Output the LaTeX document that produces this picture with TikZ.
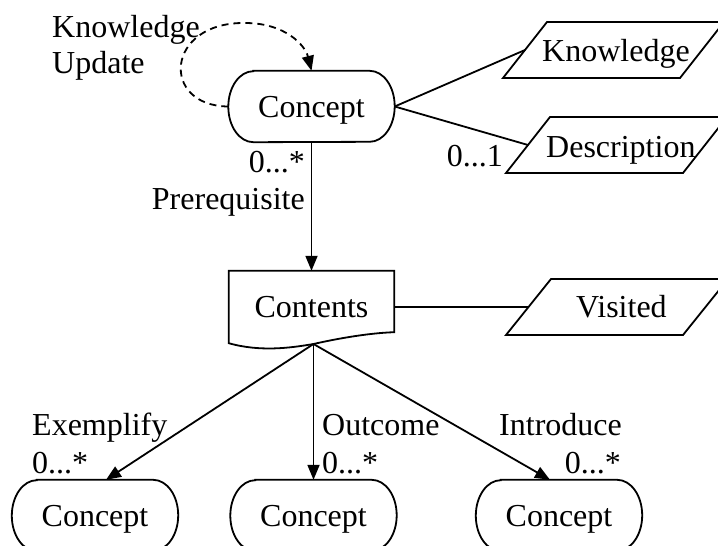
\documentclass[tikz,border=0pt]{standalone}
\usepackage{fontspec}
\setmainfont{Liberation Serif}
\usetikzlibrary{arrows.meta}
\newcommand\stadiumoutline[1]{%
  \draw[shp] ([xshift=25pt]#1.north west) -- ([xshift=-25pt]#1.north east)
    arc (90:-90:25pt and 35.5pt) -- ([xshift=25pt]#1.south west)
    arc (270:90:25pt and 35.5pt) -- cycle;}
\begin{document}
\begin{tikzpicture}[x=1pt,y=-1pt,
  every node/.style={font=\fontsize{32}{36}\selectfont, inner sep=0pt},
  lbl/.style={anchor=base west},
  lblr/.style={anchor=base east},
  concept/.style={minimum width=166pt, minimum height=71pt, text height=21pt, text depth=0pt},
  conn/.style={line width=1.8pt},
  arr/.style={conn, -{Triangle[length=15pt,width=12pt]}},
  shp/.style={line width=1.8pt, line join=miter}
]
\useasboundingbox (0,0) rectangle (718,546);

% main concept
\node[concept] (c0) at (311.5,106.5) {Concept};
\stadiumoutline{c0}

% contents (document shape)
\node[minimum width=165pt, minimum height=72pt, text height=20pt, text depth=0pt] (ct) at (311.5,307) {Contents};
\coordinate (cb) at (313.5,344);
\draw[shp] (ct.south west) -- (ct.north west) -- (ct.north east) -- ([yshift=11pt]ct.south east)
  .. controls (370,333) and (340,338) .. (cb)
  .. controls (290,348) and (260,352) .. (ct.south west) -- cycle;

% parallelograms
\draw[shp] (503,78) -- (547,22) -- (724,22) -- (680,78) -- cycle;
\coordinate (kl) at (525,50);
\node[lbl] (kn) at (542,61) {Knowledge};

\draw[shp] (506,173) -- (550,117) -- (727,117) -- (683,173) -- cycle;
\coordinate (dl) at (528,145);
\node[lbl] (dn) at (546,157) {Description};

\draw[shp] (506,335) -- (551,279) -- (728,279) -- (683,335) -- cycle;
\coordinate (vl) at (528.5,307);
\node[lbl] (vn) at (576,317) {Visited};

% bottom concepts
\node[concept] (c1) at (95,515.5) {Concept};
\stadiumoutline{c1}
\node[concept] (c2) at (313.5,515.5) {Concept};
\stadiumoutline{c2}
\node[concept] (c3) at (559,515.5) {Concept};
\stadiumoutline{c3}

% connectors
\draw[conn] (c0.east) -- (kl);
\draw[conn] (c0.east) -- (dl);
\draw[conn] (ct.east) -- (vl);
\draw[arr] (c0.south) -- (ct.north);
\draw[arr] (cb) -- ([xshift=11pt]c1.north);
\draw[arr] (cb) -- (c2.north);
\draw[arr] (cb) -- ([xshift=-9pt]c3.north);
\draw[conn, dash pattern=on 7pt off 5pt, -{Triangle[length=15pt,width=12pt]}]
  (c0.west) .. controls (160,106) and (165,22) .. (245,23)
  .. controls (285,23) and (305,45) .. (c0.north);

% labels
\node[lbl] (lk) at (52,37) {Knowledge};
\node[lbl] (lu) at (52,73) {Update};
\node[lblr] (m0) at (305,172) {0...*};
\node[lblr] (lp) at (305,209) {Prerequisite};
\node[lblr] (m01) at (503,166) {0...1};
\node[lbl] (le) at (32,435) {Exemplify};
\node[lbl] (m1) at (32,473) {0...*};
\node[lbl] (lo) at (322,435) {Outcome};
\node[lbl] (m2) at (322,473) {0...*};
\node[lbl] (li) at (499,435) {Introduce};
\node[lblr] (m3) at (621,473) {0...*};
\end{tikzpicture}
\end{document}
